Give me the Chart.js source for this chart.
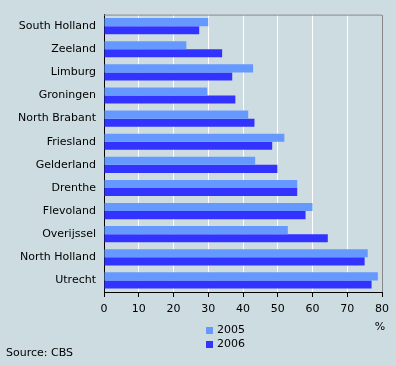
<!DOCTYPE html>
<html>
<head>
<meta charset="utf-8">
<script src="https://cdn.jsdelivr.net/npm/chart.js@4"></script>
<style>
  html, body { margin: 0; padding: 0; background: #ccdce1; }
  canvas { display: block; }
</style>
</head>
<body>
<canvas id="c" width="396" height="366"></canvas>
<script>
const categories = ["South Holland", "Zeeland", "Limburg", "Groningen", "North Brabant", "Friesland",
  "Gelderland", "Drenthe", "Flevoland", "Overijssel", "North Holland", "Utrecht"];
const values2005 = [30.0, 23.7, 42.9, 29.7, 41.5, 51.9, 43.5, 55.6, 60.0, 52.9, 75.9, 78.8];
const values2006 = [27.4, 34.0, 36.9, 37.8, 43.3, 48.4, 49.9, 55.6, 58.0, 64.4, 75.0, 77.0];
const seriesLabels = ["2005", "2006"];
const seriesColors = ["#6699ff", "#3333ff"];
const unitLabel = "%";
const sourceText = "Source: CBS";

const FONT = "DejaVu Sans";

const extras = {
  id: "extras",
  afterDraw(chart) {
    const ctx = chart.ctx;
    const a = chart.chartArea;
    ctx.save();
    // top & right border
    ctx.strokeStyle = "#888888";
    ctx.lineWidth = 1;
    ctx.beginPath();
    ctx.moveTo(a.left, a.top + 0.5);
    ctx.lineTo(a.right + 0.5, a.top + 0.5);
    ctx.lineTo(a.right + 0.5, a.bottom);
    ctx.stroke();
    // legend
    ctx.font = "11px '" + FONT + "'";
    ctx.textBaseline = "middle";
    ctx.textAlign = "left";
    chart.data.datasets.forEach((ds, i) => {
      const y = 330 + i * 14;
      ctx.fillStyle = ds.backgroundColor;
      ctx.fillRect(206, y - 3, 7, 7);
      ctx.fillStyle = "#000";
      ctx.fillText(ds.label, 217, y + 0.5);
    });
    // unit
    ctx.textAlign = "center";
    ctx.fillText(unitLabel, 380, 327);
    // source
    ctx.textAlign = "left";
    ctx.fillText(sourceText, 6, 353);
    ctx.restore();
  }
};

new Chart(document.getElementById("c"), {
  type: "bar",
  data: {
    labels: categories,
    datasets: [
      { label: seriesLabels[0], data: values2005, backgroundColor: seriesColors[0] },
      { label: seriesLabels[1], data: values2006, backgroundColor: seriesColors[1] }
    ]
  },
  options: {
    indexAxis: "y",
    responsive: false,
    animation: false,
    devicePixelRatio: 1,
    categoryPercentage: 0.7,
    barPercentage: 1.0,
    layout: { padding: { left: 0, top: 14, right: 14, bottom: 0 } },
    plugins: { legend: { display: false }, tooltip: { enabled: false } },
    scales: {
      x: {
        min: 0, max: 80,
        afterFit(s) { s.height = 74; },
        grid: { color: "#ffffff", lineWidth: 1, tickColor: "#000000", tickLength: 5, drawTicks: true },
        border: { display: true, color: "#000000", width: 1 },
        ticks: { stepSize: 10, color: "#000", padding: 6, font: { family: FONT, size: 11 } }
      },
      y: {
        afterFit(s) { s.width = 104; },
        grid: { display: false, drawTicks: false },
        border: { display: true, color: "#000000", width: 1 },
        ticks: { color: "#000", padding: 8, font: { family: FONT, size: 11 } }
      }
    }
  },
  plugins: [extras]
});
</script>
</body>
</html>
